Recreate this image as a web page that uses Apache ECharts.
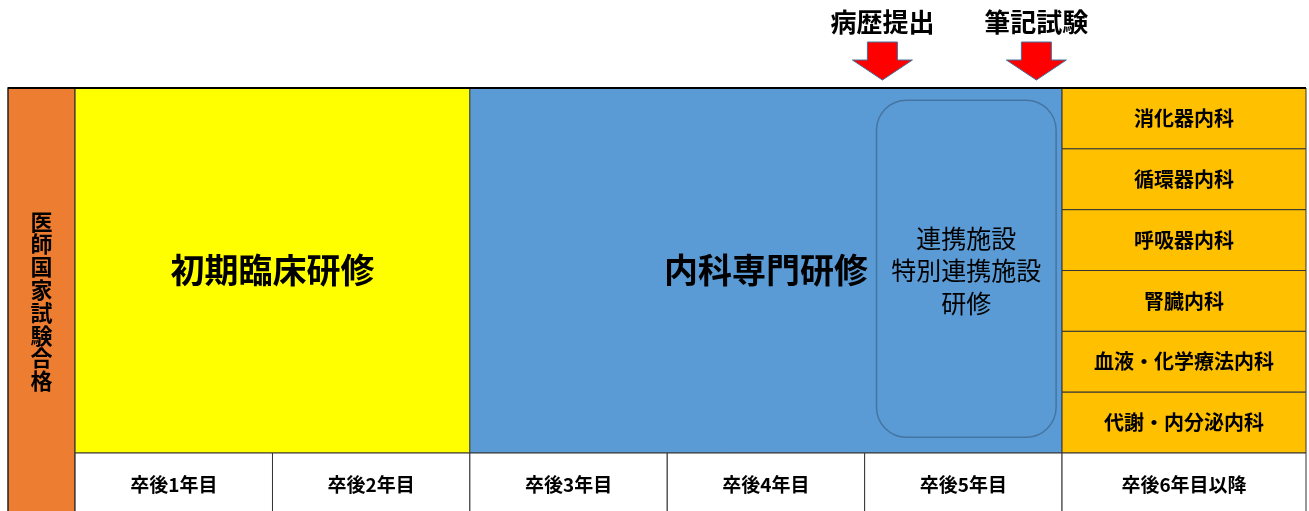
<!DOCTYPE html>
<html><head><meta charset="utf-8">
<script src="https://cdn.jsdelivr.net/npm/echarts@6/dist/echarts.min.js"></script>
<style>html,body{margin:0;padding:0;background:#fff}#c{width:1309px;height:511px}</style>
</head><body><div id="c"></div>
<script>
// ---- data ----
const yearLabels = ['卒後1年目','卒後2年目','卒後3年目','卒後4年目','卒後5年目','卒後6年目以降'];
const yearStarts = [0, 1, 2, 3, 4, 5];
const yearEnds   = [1, 2, 3, 4, 5, 6.236];
const phaseNames = ['初期臨床研修', '内科専門研修'];
const phaseStarts = [0, 2];
const phaseEnds   = [2, 5];
const specialties = ['消化器内科','循環器内科','呼吸器内科','腎臓内科','血液・化学療法内科','代謝・内分泌内科'];
const licenseLabel = '医師国家試験合格';
const licenseSpan = [-0.34, 0];
const rotationLines = ['連携施設', '特別連携施設', '研修'];
const rotationSpan = [4.06, 4.97];
const rotationRows = [0.2, 5.74];
const milestoneNames = ['病歴提出', '筆記試験'];
const milestoneYears = [4.09, 4.87];

// ---- styling ----
const FONT = '"Noto Sans CJK JP", "Noto Sans", sans-serif';
const phaseColors = ['#FFFF00', '#5B9BD5'];
const ROWS = specialties.length;
const BOTTOM = ROWS + 0.953;

const chart = echarts.init(document.getElementById('c'), null, {renderer: 'canvas'});

function rectFrom(api, x0, x1, y0, y1) {
  const p0 = api.coord([x0, y0]);
  const p1 = api.coord([x1, y1]);
  return {x: p0[0], y: p0[1], width: p1[0] - p0[0], height: p1[1] - p0[1]};
}

const option = {
  animation: false,
  grid: {left: 8, right: 3, top: 0, bottom: 0},
  xAxis: {type: 'value', min: licenseSpan[0], max: yearEnds[yearEnds.length - 1], show: false},
  yAxis: {type: 'value', min: -1.447, max: BOTTOM, inverse: true, show: false},
  series: [
    // license column
    {
      type: 'custom', clip: false,
      data: [[licenseSpan[0], licenseSpan[1]]],
      renderItem: function (params, api) {
        const r = rectFrom(api, api.value(0), api.value(1), 0, BOTTOM + 0.2);
        return {type: 'group', children: [
          {type: 'rect', shape: r, style: {fill: '#ED7D31', stroke: '#222', lineWidth: 1.5}},
          {type: 'text', x: r.x + r.width / 2, y: api.coord([0, 3.5])[1],
            style: {text: licenseLabel.split('').join('\n'), font: 'bold 22px ' + FONT, lineHeight: 22.8,
              fill: '#000', align: 'center', verticalAlign: 'middle'}}
        ]};
      }
    },
    // phases
    {
      type: 'custom', clip: false,
      data: phaseNames.map((n, i) => [phaseStarts[i], phaseEnds[i], i]),
      renderItem: function (params, api) {
        const i = api.value(2);
        const r = rectFrom(api, api.value(0), api.value(1), 0, ROWS);
        return {type: 'group', children: [
          {type: 'rect', shape: r, style: {fill: phaseColors[i], stroke: '#444', lineWidth: 1}},
          {type: 'text', x: r.x + r.width / 2, y: r.y + r.height / 2,
            style: {text: phaseNames[i], font: 'bold 34px ' + FONT, fill: '#000', align: 'center', verticalAlign: 'middle'}}
        ]};
      }
    },
    // rotation rounded box
    {
      type: 'custom', clip: false,
      data: [[rotationSpan[0], rotationSpan[1], rotationRows[0], rotationRows[1]]],
      renderItem: function (params, api) {
        const r = rectFrom(api, api.value(0), api.value(1), api.value(2), api.value(3));
        return {type: 'group', children: [
          {type: 'rect', shape: Object.assign({r: 30}, r), style: {fill: 'none', stroke: '#41719C', lineWidth: 1.5, opacity: 0.9}},
          {type: 'text', x: r.x + r.width / 2, y: r.y + r.height / 2 + 2,
            style: {text: rotationLines.join('\n'), font: '25px ' + FONT, lineHeight: 32.5, fill: '#000', align: 'center', verticalAlign: 'middle'}}
        ]};
      }
    },
    // specialties
    {
      type: 'custom', clip: false,
      data: specialties.map((s, i) => [yearStarts[5], yearEnds[5], i]),
      renderItem: function (params, api) {
        const i = api.value(2);
        const r = rectFrom(api, api.value(0), api.value(1), i, i + 1);
        return {type: 'group', children: [
          {type: 'rect', shape: r, style: {fill: '#FFC000', stroke: '#333', lineWidth: 1}},
          {type: 'text', x: r.x + r.width / 2, y: r.y + r.height / 2,
            style: {text: specialties[i], font: 'bold 20px ' + FONT, fill: '#000', align: 'center', verticalAlign: 'middle'}}
        ]};
      }
    },
    // year cells
    {
      type: 'custom', clip: false,
      data: yearLabels.map((s, i) => [yearStarts[i], yearEnds[i], i]),
      renderItem: function (params, api) {
        const i = api.value(2);
        const r = rectFrom(api, api.value(0), api.value(1), ROWS, BOTTOM + 0.2);
        const c = api.coord([0, (ROWS + BOTTOM) / 2]);
        return {type: 'group', children: [
          {type: 'rect', shape: r, style: {fill: '#fff', stroke: '#333', lineWidth: 1}},
          {type: 'text', x: r.x + r.width / 2, y: c[1] + 3,
            style: {text: yearLabels[i], font: 'bold 19px ' + FONT, fill: '#000', align: 'center', verticalAlign: 'middle'}}
        ]};
      }
    },
    // top frame line
    {
      type: 'custom', clip: false,
      data: [[licenseSpan[0], yearEnds[yearEnds.length - 1]]],
      renderItem: function (params, api) {
        const a = api.coord([api.value(0), 0]);
        const b = api.coord([api.value(1), 0]);
        return {type: 'line', shape: {x1: a[0], y1: a[1], x2: b[0], y2: b[1]}, style: {stroke: '#000', lineWidth: 2}};
      }
    },
    // milestones (arrows)
    {
      type: 'custom', clip: false,
      data: milestoneNames.map((n, i) => [milestoneYears[i], i]),
      renderItem: function (params, api) {
        const i = api.value(1);
        const p = api.coord([api.value(0), 0]);
        const cx = p[0], top = p[1];
        const pts = [
          [cx - 15, top - 46], [cx + 15, top - 46], [cx + 15, top - 28], [cx + 30, top - 28],
          [cx, top - 8], [cx - 30, top - 28], [cx - 15, top - 28]
        ];
        return {type: 'group', children: [
          {type: 'polygon', shape: {points: pts}, style: {fill: '#FF0000', stroke: '#41719C', lineWidth: 1}},
          {type: 'text', x: cx, y: top - 66,
            style: {text: milestoneNames[i], font: 'bold 26px ' + FONT, fill: '#000', align: 'center', verticalAlign: 'middle'}}
        ]};
      }
    }
  ]
};
chart.setOption(option);
</script>
</body></html>
